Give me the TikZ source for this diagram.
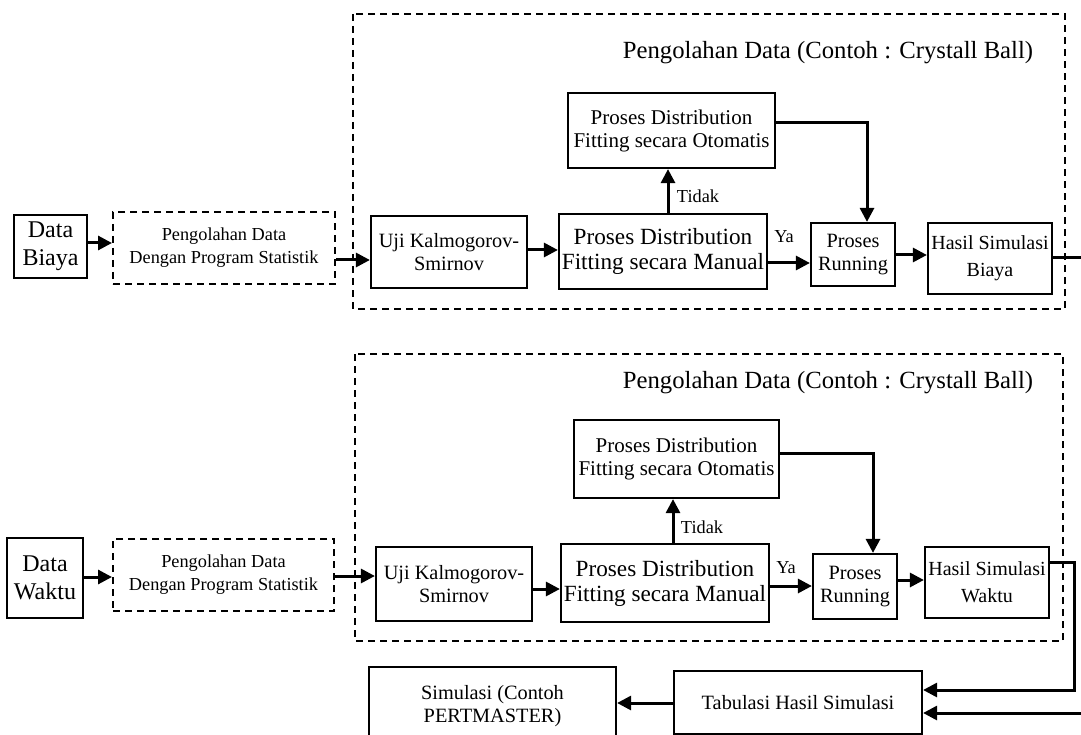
\documentclass[tikz,border=0pt]{standalone}
\usepackage{fontspec}
\setmainfont{Liberation Serif}
\usetikzlibrary{arrows.meta}

\tikzset{
  kotak/.style={draw, line width=2.2pt, align=center, inner sep=0pt},
  kotakputus/.style={draw, line width=2pt, dash pattern=on 7pt off 5pt, align=center, inner sep=0pt},
  bingkai/.style={line width=2pt, dash pattern=on 7pt off 5pt},
  panah/.style={line width=3pt, -{Triangle[length=14pt,width=14pt]}},
  garis/.style={line width=3pt},
  teksjudul/.style={font=\fontsize{24.7}{26}\selectfont},
  teksbesar/.style={font=\fontsize{23.2}{25}\selectfont},
  teksdata/.style={font=\fontsize{24}{28}\selectfont},
  teksmid/.style={font=\fontsize{20.3}{23}\selectfont},
  tekshasil/.style={font=\fontsize{20}{27}\selectfont},
  tekskecil/.style={font=\fontsize{18.3}{23}\selectfont},
}

\begin{document}
\begin{tikzpicture}[x=1pt,y=-1pt]
    \useasboundingbox (0,0) rectangle (1081,735);
    \clip (0,0) rectangle (1081,735);
    % biaya
    \draw[bingkai] (353,14) rectangle (1065,309);
    \node[teksjudul] (judulB) at (828,53) {Pengolahan Data (Contoh : Crystall Ball)};
    \node[kotak, teksdata, minimum width=73pt, minimum height=63pt] (dataB) at (50.5,246.5) {Data\\Biaya};
    \node[kotakputus, tekskecil, minimum width=222pt, minimum height=72pt] (progB) at (224,248) {Pengolahan Data\\Dengan Program Statistik};
    \node[kotak, teksmid, minimum width=156pt, minimum height=72pt] (ujiB) at (449,252) {Uji Kalmogorov-\\Smirnov};
    \node[kotak, teksbesar, minimum width=208pt, minimum height=75pt] (manB) at (663,251.5) {Proses Distribution\\Fitting secara Manual};
    \node[kotak, teksmid, font=\fontsize{21}{23}\selectfont, minimum width=207pt, minimum height=75pt] (otoB) at (671.5,130.5) {Proses Distribution\\Fitting secara Otomatis};
    \node[kotak, teksmid, minimum width=84pt, minimum height=63pt] (runB) at (853,254.5) {Proses\\Running};
    \node[kotak, tekshasil, minimum width=124pt, minimum height=71pt] (hasB) at (990,258.5) {Hasil Simulasi\\Biaya};
    \node[tekskecil] (tidakB) at (698,196) {Tidak};
    \node[tekskecil] (yaB) at (784,237) {Ya};
    \coordinate (keluarB) at (1081,258);

    \draw[panah] (dataB.east |- 0,243) -- (progB.west |- 0,243);
    \draw[panah] (progB.east |- 0,260) -- (ujiB.west |- 0,260);
    \draw[panah] (ujiB.east |- 0,250) -- (manB.west |- 0,250);
    \draw[panah] (668,0 |- manB.north) -- (668,0 |- otoB.south);
    \draw[panah] (manB.east |- 0,263) -- (runB.west |- 0,263);
    \draw[panah] (otoB.east |- 0,123) -| (867,0 |- runB.north);
    \draw[panah] (runB.east |- 0,255) -- (hasB.west |- 0,255);
    \draw[garis] (hasB.east |- keluarB) -- (keluarB);

    % waktu
    \draw[bingkai] (355,354) rectangle (1063,641);
    \node[teksjudul] (judulW) at (828,383) {Pengolahan Data (Contoh : Crystall Ball)};
    \node[kotak, teksdata, minimum width=76pt, minimum height=80pt] (dataW) at (45,578) {Data\\Waktu};
    \node[kotakputus, tekskecil, minimum width=221pt, minimum height=72pt] (progW) at (223.5,575) {Pengolahan Data\\Dengan Program Statistik};
    \node[kotak, teksmid, minimum width=156pt, minimum height=74pt] (ujiW) at (454,584) {Uji Kalmogorov-\\Smirnov};
    \node[kotak, teksbesar, minimum width=208pt, minimum height=78pt] (manW) at (665,583) {Proses Distribution\\Fitting secara Manual};
    \node[kotak, teksmid, font=\fontsize{21}{23}\selectfont, minimum width=205pt, minimum height=78pt] (otoW) at (676.5,459) {Proses Distribution\\Fitting secara Otomatis};
    \node[kotak, teksmid, minimum width=84pt, minimum height=65pt] (runW) at (855,586.5) {Proses\\Running};
    \node[kotak, tekshasil, minimum width=124pt, minimum height=71pt] (hasW) at (987,582.5) {Hasil Simulasi\\Waktu};
    \node[tekskecil] (tidakW) at (702,527) {Tidak};
    \node[tekskecil] (yaW) at (786,568) {Ya};

    \draw[panah] (dataW.east |- 0,577) -- (progW.west |- 0,577);
    \draw[panah] (progW.east |- 0,576) -- (ujiW.west |- 0,576);
    \draw[panah] (ujiW.east |- 0,589) -- (manW.west |- 0,589);
    \draw[panah] (673,0 |- manW.north) -- (673,0 |- otoW.south);
    \draw[panah] (manW.east |- 0,586) -- (runW.west |- 0,586);
    \draw[panah] (otoW.east |- 0,453) -| (873,0 |- runW.north);
    \draw[panah] (runW.east |- 0,580) -- (hasW.west |- 0,580);

    % tabulasi
    \node[kotak, teksmid, minimum width=248pt, minimum height=63pt] (tabel) at (798,702.5) {Tabulasi Hasil Simulasi};
    \node[kotak, teksmid, minimum width=247pt, minimum height=78pt] (simul) at (492.5,706) {Simulasi (Contoh\\PERTMASTER)};
    \coordinate (masukB) at (1081,713);
    \draw[panah] (hasW.east |- 0,562) -- (1074,562) |- (tabel.east |- 0,690);
    \draw[panah] (masukB) -- (tabel.east |- masukB);
    \draw[panah] (tabel.west |- 0,703) -- (simul.east |- 0,703);
\end{tikzpicture}
\end{document}
